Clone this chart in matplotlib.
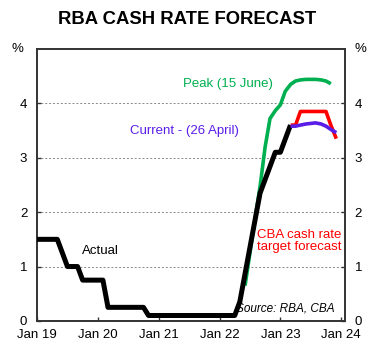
import numpy as np
import matplotlib
matplotlib.use("Agg")
import matplotlib.pyplot as plt

plt.rcParams['font.family'] = ['Liberation Sans', 'DejaVu Sans']

# Actual cash rate, monthly from Jan 2019 to Mar 2023
actual = ([1.5, 1.5, 1.5, 1.5, 1.5, 1.25, 1.0, 1.0, 1.0, 0.75, 0.75, 0.75] +
          [0.75, 0.75, 0.25, 0.25, 0.25, 0.25, 0.25, 0.25, 0.25, 0.25, 0.1, 0.1] +
          [0.1] * 12 +
          [0.1, 0.1, 0.1, 0.1, 0.35, 0.85, 1.35, 1.85, 2.35, 2.6, 2.85, 3.1] +
          [3.1, 3.35, 3.6])
actual_t = [2019 + i / 12 for i in range(len(actual))]

# Market pricing, 15 June (monthly from Jun 2022 to Nov 2023)
peak_t = [2022.42, 2022.5, 2022.58, 2022.67, 2022.75, 2022.83, 2022.92, 2023.0,
          2023.08, 2023.17, 2023.25, 2023.33, 2023.42, 2023.5, 2023.58, 2023.67,
          2023.75, 2023.83]
peak = [0.65, 1.25, 1.85, 2.5, 3.2, 3.72, 3.87, 3.97, 4.22, 4.35, 4.41, 4.43,
        4.44, 4.44, 4.44, 4.43, 4.41, 4.36]

# Market pricing, 26 April (Mar 2023 to Dec 2023)
current_t = [2023.17, 2023.25, 2023.33, 2023.42, 2023.5, 2023.58, 2023.67,
             2023.75, 2023.83, 2023.92]
current = [3.58, 3.58, 3.6, 3.62, 3.63, 3.64, 3.62, 3.58, 3.52, 3.46]

# CBA cash rate target forecast
cba_t = [2023.17, 2023.25, 2023.33, 2023.42, 2023.5, 2023.58, 2023.67, 2023.75,
         2023.83, 2023.92]
cba = [3.6, 3.6, 3.85, 3.85, 3.85, 3.85, 3.85, 3.85, 3.6, 3.35]

xtick_pos = [2019, 2020, 2021, 2022, 2023, 2024]
xtick_labels = ['Jan 19', 'Jan 20', 'Jan 21', 'Jan 22', 'Jan 23', 'Jan 24']
yticks = [0, 1, 2, 3, 4]

GREEN = '#00B050'
BLUE = '#5A1DE8'
RED = '#FF0000'

fig = plt.figure(figsize=(3.74, 3.57), dpi=100)
ax = fig.add_axes([0.099, 0.101, 0.823, 0.762])

ax.plot(peak_t, peak, color=GREEN, lw=2.6, solid_capstyle='butt',
        solid_joinstyle='round', zorder=2)
ax.plot(actual_t, actual, color='black', lw=3.6, solid_joinstyle='round',
        solid_capstyle='butt', zorder=3)
ax.plot(cba_t, cba, color=RED, lw=2.6, solid_capstyle='butt',
        solid_joinstyle='round', zorder=4)
ax.plot(current_t, current, color=BLUE, lw=2.6, solid_capstyle='butt',
        solid_joinstyle='round', zorder=5)

ax.set_xlim(2019, 2024.06)
ax.set_ylim(0, 5)
ax.set_yticks(yticks)
ax.set_yticklabels([str(v) for v in yticks])
ax.set_xticks(xtick_pos)
ax.set_xticklabels(xtick_labels)

for v in yticks[1:]:
    ax.axhline(v, color='#888888', lw=0.7, ls=(0, (2, 2)), zorder=1)

for s in ax.spines.values():
    s.set_linewidth(1.4)
    s.set_color('#333333')

ax.tick_params(axis='x', direction='in', length=3, width=1, labelsize=9.5,
               pad=6, colors='#333333', labelcolor='black')
ax.tick_params(axis='y', direction='in', length=3, width=1, labelsize=9.5,
               left=True, right=True, labelleft=True, labelright=True, pad=7,
               colors='#333333', labelcolor='black')

# % labels at the top of both axes
ax.text(-0.045, 1.0, '%', transform=ax.transAxes, ha='right', va='center',
        fontsize=9.5)
ax.text(1.03, 1.0, '%', transform=ax.transAxes, ha='left', va='center',
        fontsize=9.5)

fig.text(0.5, 0.945, 'RBA CASH RATE FORECAST', ha='center', va='center',
         fontsize=13.3, fontweight='bold')

ax.text(2021.4, 4.36, 'Peak (15 June)', color=GREEN, fontsize=9.5,
        ha='left', va='center')
ax.text(2020.53, 3.5, 'Current - (26 April)', color=BLUE, fontsize=9.5,
        ha='left', va='center')
ax.text(2019.74, 1.28, 'Actual', color='black', fontsize=9.5,
        ha='left', va='center')
ax.text(2024.0, 1.47, 'CBA cash rate\ntarget forecast', color=RED, fontsize=9.5,
        ha='right', va='center', linespacing=1.05)
ax.text(2023.9, 0.22, 'Source: RBA, CBA', color='black', fontsize=8.5,
        style='italic', ha='right', va='center')

fig.savefig('out.png', dpi=100)
